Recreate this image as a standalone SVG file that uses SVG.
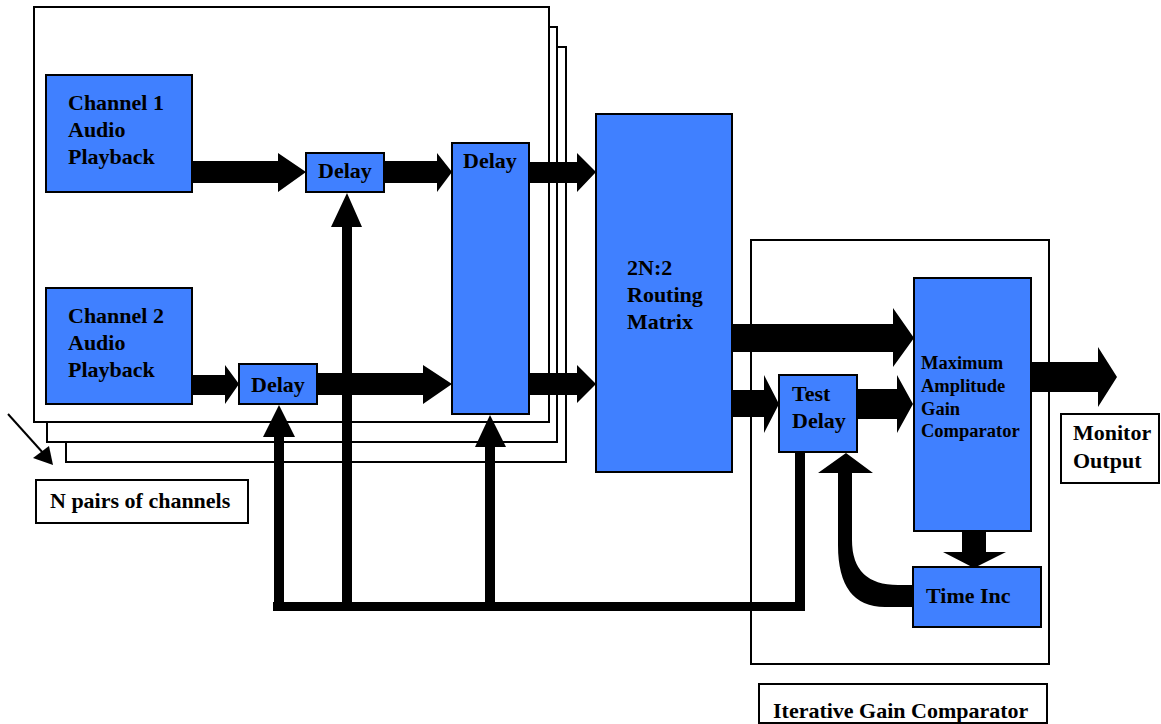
<svg xmlns="http://www.w3.org/2000/svg" width="1161" height="724" viewBox="0 0 1161 724">
<style>
.frame{fill:#fff;stroke:#000;stroke-width:2}
.blk{fill:#4080ff;stroke:#000;stroke-width:2}
.box{fill:#fff;stroke:#000;stroke-width:2}
.t{font-family:"Liberation Serif","Times New Roman",serif;font-weight:bold;font-size:22px;fill:#000}
.s{font-size:18.5px}
.arr{fill:#000;stroke:none}
</style>
<rect width="1161" height="724" fill="#fff"/>
<g id="stack">
<rect class="frame" x="66" y="47" width="500" height="415"/>
<rect class="frame" x="47" y="27" width="510" height="415"/>
<rect class="frame" x="34" y="7" width="515" height="415"/>
</g>
<g id="iterative-frame">
<rect class="frame" x="751" y="240" width="298" height="424"/>
</g>
<g id="ch1">
<rect class="blk" x="46" y="75" width="146" height="117"/>
<text class="t" x="68" y="110">Channel 1</text>
<text class="t" x="68" y="137">Audio</text>
<text class="t" x="68" y="164">Playback</text>
</g>
<g id="ch2">
<rect class="blk" x="46" y="288" width="146" height="116"/>
<text class="t" x="68" y="323">Channel 2</text>
<text class="t" x="68" y="350">Audio</text>
<text class="t" x="68" y="377">Playback</text>
</g>
<g id="delay1">
<rect class="blk" x="306" y="153" width="78" height="39"/>
<text class="t" x="345" y="178" text-anchor="middle">Delay</text>
</g>
<g id="delay2">
<rect class="blk" x="239" y="364" width="78" height="40"/>
<text class="t" x="278" y="392" text-anchor="middle">Delay</text>
</g>
<g id="delay-big">
<rect class="blk" x="452" y="143" width="77" height="271"/>
<text class="t" x="490" y="168" text-anchor="middle">Delay</text>
</g>
<g id="routing">
<rect class="blk" x="596" y="114" width="136" height="358"/>
<text class="t" x="627" y="275">2N:2</text>
<text class="t" x="627" y="302">Routing</text>
<text class="t" x="627" y="329">Matrix</text>
</g>
<g id="test-delay">
<rect class="blk" x="779" y="375" width="78" height="77"/>
<text class="t" x="792" y="401">Test</text>
<text class="t" x="792" y="428">Delay</text>
</g>
<g id="max-amp">
<rect class="blk" x="914" y="278" width="117" height="253"/>
<text class="t s" x="921" y="369">Maximum</text>
<text class="t s" x="921" y="392">Amplitude</text>
<text class="t s" x="921" y="414.5">Gain</text>
<text class="t s" x="921" y="437">Comparator</text>
</g>
<g id="time-inc">
<rect class="blk" x="913" y="567" width="128" height="60"/>
<text class="t" x="926" y="603">Time Inc</text>
</g>
<g id="monitor">
<rect class="box" x="1061" y="414" width="98" height="69"/>
<text class="t" x="1073" y="440">Monitor</text>
<text class="t" x="1073" y="468">Output</text>
</g>
<g id="n-pairs">
<rect class="box" x="36" y="480" width="212" height="43"/>
<text class="t" x="50" y="508">N pairs of channels</text>
</g>
<g id="iterative-label">
<rect class="box" x="759" y="684" width="288" height="39"/>
<text class="t" x="773" y="718">Iterative Gain Comparator</text>
</g>
<g id="connectors">
<polygon class="arr" points="192,161 278,161 278,153 306,172 278,192 278,183 192,183"/>
<polygon class="arr" points="384,161 437,161 437,153 452,172 437,192 437,183 384,183"/>
<polygon class="arr" points="529,162 577,162 577,153 596,172 577,192 577,183 529,183"/>
<polygon class="arr" points="529,373 577,373 577,365 596,384 577,403 577,395 529,395"/>
<polygon class="arr" points="192,375 225,375 225,365 239,384 225,404 225,395 192,395"/>
<polygon class="arr" points="317,373 423,373 423,365 452,384 423,404 423,395 317,395"/>
<polygon class="arr" points="732,324 893,324 893,308 914,338 893,367 893,352 732,352"/>
<polygon class="arr" points="732,390 764,390 764,375 779,404 764,433 764,417 732,417"/>
<polygon class="arr" points="857,389 897,389 897,375 913,404 897,433 897,419 857,419"/>
<polygon class="arr" points="1031,362 1098,362 1098,347 1117,377 1098,407 1098,392 1031,392"/>
<polygon class="arr" points="962,531 986,531 986,552 1006,552 974,568 943,552 962,552"/>
<polygon class="arr" points="273,611 273,602 274,602 274,437 263,437 279,405 295,437 284,437 284,602 342,602 342,227 331,227 347,193 362,227 352,227 352,602 485,602 485,447 475,447 490,415 506,447 495,447 495,602 795,602 795,452 805,452 805,611"/>
<path class="arr" d="M913,585 L898,585 Q852,585 852,540 L852,473 L873,473 L846,453 L818,473 L838,473 L838,545 Q838,607 885,607 L913,607 Z"/>
<line x1="8" y1="414" x2="44" y2="454" stroke="#000" stroke-width="2"/>
<polygon class="arr" points="33,458 49,446 53,465"/>
</g>
</svg>
